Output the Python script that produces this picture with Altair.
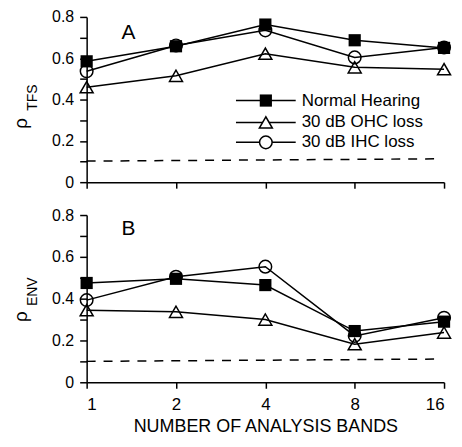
import json
import altair as alt
import pandas as pd

# ---- data ----
bands = [1, 2, 4, 8, 16]
series_names = ["Normal Hearing", "30 dB OHC loss", "30 dB IHC loss"]

tfs_nh = [0.585, 0.658, 0.763, 0.687, 0.650]
tfs_ohc = [0.460, 0.515, 0.622, 0.556, 0.547]
tfs_ihc = [0.537, 0.662, 0.735, 0.604, 0.652]

env_nh = [0.475, 0.495, 0.465, 0.245, 0.290]
env_ohc = [0.345, 0.337, 0.300, 0.182, 0.238]
env_ihc = [0.393, 0.505, 0.553, 0.222, 0.309]

chance_x = [1, 15]
tfs_chance = [0.102, 0.113]
env_chance = [0.100, 0.111]

y_tick_values = [0, 0.1, 0.2, 0.3, 0.4, 0.5, 0.6, 0.7, 0.8]
y_tick_labels = ["0", "0.2", "0.4", "0.6", "0.8"]
x_tick_values = [1, 2, 4, 8, 16]
x_title = "NUMBER OF ANALYSIS BANDS"
panel_letters = ["A", "B"]
y_symbol = "\u03c1"
y_subscripts = ["TFS", "ENV"]

FONT = "Liberation Sans"
PLOT_W = 359


def one_row(text):
    return alt.Data(values=[{"t": text}])


def panel(vals, chance, letter, sub, height, show_x, legend, rho_y, sub_y, letter_y):
    df = pd.DataFrame({
        "bands": bands * 3,
        "value": vals[0] + vals[1] + vals[2],
        "series": [s for s in series_names for _ in bands],
    })
    xscale = alt.Scale(type="log", base=2, domain=[1, 16], nice=False)
    yscale = alt.Scale(domain=[0, 0.8], nice=False, zero=False)
    xaxis_kw = dict(values=x_tick_values, tickSize=6, labelPadding=8,
                    labelFontSize=17, titleFontSize=18, titlePadding=5,
                    titleFontWeight="normal", format="d", labels=show_x)
    label_expr = ("indexof(" + json.dumps(y_tick_labels) +
                  ", datum.label) >= 0 ? datum.label : ''")
    yaxis = alt.Axis(values=y_tick_values, tickSize=7, labelPadding=6,
                     labelFontSize=16, format="~g", labelExpr=label_expr,
                     title=None)
    if show_x:
        xenc = alt.X("bands:Q", scale=xscale, axis=alt.Axis(**xaxis_kw), title=x_title)
    else:
        xenc = alt.X("bands:Q", scale=xscale, axis=alt.Axis(**xaxis_kw), title=None)
    yenc = alt.Y("value:Q", scale=yscale, axis=yaxis)

    base = alt.Chart(df).encode(x=xenc, y=yenc)
    lines = base.mark_line(color="black", strokeWidth=1.5).encode(detail="series:N")
    nh = base.transform_filter(alt.datum.series == series_names[0]).mark_point(
        shape="square", filled=True, color="black", size=150, opacity=1)
    ohc = base.transform_filter(alt.datum.series == series_names[1]).mark_point(
        shape="triangle-up", filled=False, color="black", size=170, strokeWidth=1.5, opacity=1)
    ihc = base.transform_filter(alt.datum.series == series_names[2]).mark_point(
        shape="circle", filled=False, color="black", size=160, strokeWidth=1.5, opacity=1)

    cdf = pd.DataFrame({"bands": chance_x, "value": chance})
    dashed = alt.Chart(cdf).mark_line(color="black", strokeWidth=1.5,
                                      strokeDash=[9, 8]).encode(x=xenc, y=yenc)

    letter_mark = alt.Chart(one_row(letter)).mark_text(
        fontSize=21, font=FONT, align="center", baseline="alphabetic", color="black"
    ).encode(x=alt.value(42), y=alt.value(letter_y), text="t:N")

    rho = alt.Chart(one_row(y_symbol)).mark_text(
        fontSize=19, font=FONT, align="center", baseline="middle", color="black", angle=270
    ).encode(x=alt.value(-66), y=alt.value(rho_y), text="t:N")
    subm = alt.Chart(one_row(sub)).mark_text(
        fontSize=14, font=FONT, align="center", baseline="middle", color="black", angle=270
    ).encode(x=alt.value(-54), y=alt.value(sub_y), text="t:N")

    layers = [dashed, lines, nh, ohc, ihc, letter_mark, rho, subm]

    if legend:
        shapes = [("square", True, 150), ("triangle-up", False, 170), ("circle", False, 160)]
        row_y = [84, 106, 126]
        for name, (shp, fill, sz), yy in zip(series_names, shapes, row_y):
            seg = alt.Chart(one_row(name)).mark_rule(color="black", strokeWidth=1.5).encode(
                x=alt.value(150), x2=alt.value(210), y=alt.value(yy))
            sym = alt.Chart(one_row(name)).mark_point(
                shape=shp, filled=fill, color="black", size=sz, strokeWidth=1.5, opacity=1,
                fill="black" if fill else "white").encode(x=alt.value(180), y=alt.value(yy))
            txt = alt.Chart(one_row(name)).mark_text(
                fontSize=17, font=FONT, align="left", baseline="middle", color="black"
            ).encode(x=alt.value(216), y=alt.value(yy), text="t:N")
            layers += [seg, sym, txt]

    return alt.layer(*layers).properties(width=PLOT_W, height=height)


top = panel([tfs_nh, tfs_ohc, tfs_ihc], tfs_chance, panel_letters[0], y_subscripts[0],
            166, False, True, 107, 81, 22)
bottom = panel([env_nh, env_ohc, env_ihc], env_chance, panel_letters[1], y_subscripts[1],
               168, True, False, 102, 77, 20)

chart = alt.vconcat(top, bottom, spacing=33, bounds="flush").properties(
    padding={"left": 4, "top": 0, "right": 0, "bottom": 0}
).configure(font=FONT).configure_view(stroke=None).configure_axis(
    domainColor="black", domainWidth=1.5, tickColor="black", tickWidth=1.5,
    labelColor="black", titleColor="black", grid=False, labelFont=FONT, titleFont=FONT
)

chart.save("out.html", embed_options={"renderer": "svg", "actions": False})
